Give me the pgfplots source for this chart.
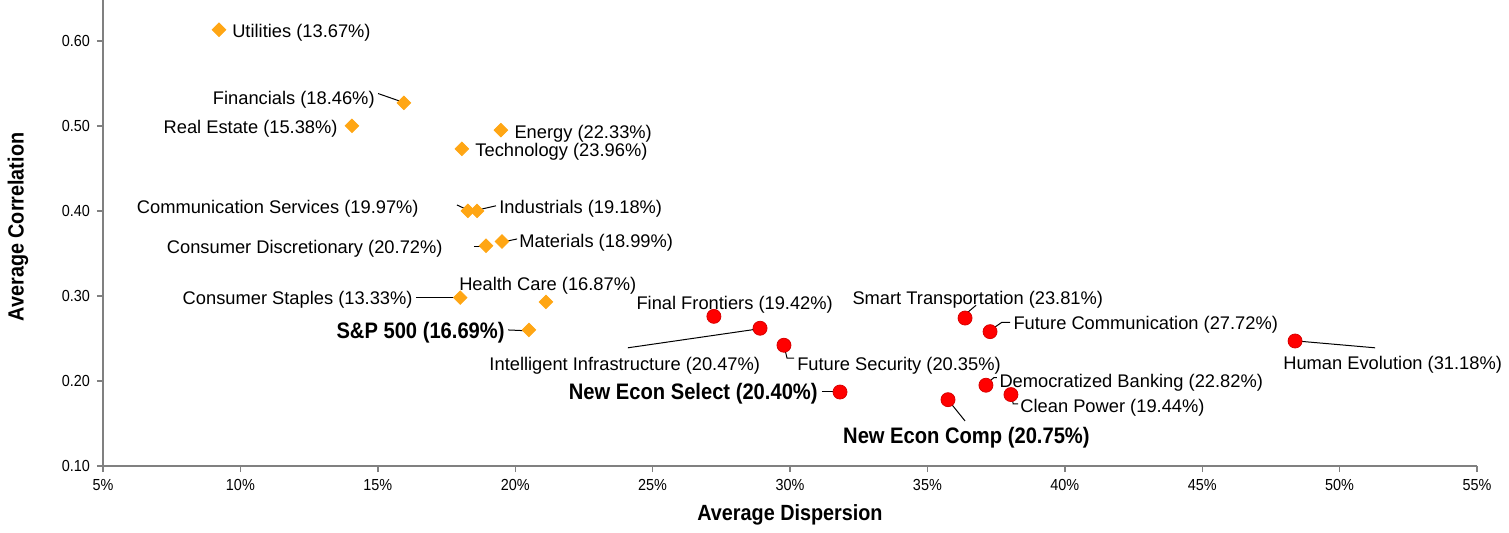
\documentclass[border=0pt]{standalone}
\usepackage{fontspec}
\setmainfont{Liberation Sans}
\newfontfamily\narrowfont[FakeStretch=0.9]{Liberation Sans}
\usepackage{pgfplots}
\pgfplotsset{compat=1.18}
\definecolor{sectorc}{RGB}{255,166,20}
\definecolor{themec}{RGB}{255,0,0}
\newcommand{\lab}{\fontsize{9.15}{11}\selectfont}
\newcommand{\blab}{\narrowfont\bfseries\fontsize{11.2}{13}\selectfont}
\begin{document}
\begin{tikzpicture}
\begin{axis}[
  at={(0pt,0pt)}, anchor=south west,
  scale only axis, width=687pt, height=233pt,
  xmin=5, xmax=55, ymin=0.1, ymax=0.648,
  axis x line*=bottom, axis y line*=left,
  axis line style={draw=black!50, line width=0.7pt, -},
  xtick={5,10,15,20,25,30,35,40,45,50,55},
  xticklabels={5\%,10\%,15\%,20\%,25\%,30\%,35\%,40\%,45\%,50\%,55\%},
  ytick={0.1,0.2,0.3,0.4,0.5,0.6},
  yticklabels={0.10,0.20,0.30,0.40,0.50,0.60},
  tick style={draw=black!50, line width=0.7pt},
  major tick length=3pt,
  tick align=outside,
  tick label style={font=\narrowfont\fontsize{8}{9}\selectfont},
  xlabel={Average Dispersion}, ylabel={Average Correlation},
  label style={font=\narrowfont\bfseries\fontsize{11}{13}\selectfont},
  xlabel style={at={(axis description cs:0.5,-0.105)}, anchor=center},
  ylabel style={at={(axis description cs:-0.0619,0.513)}, anchor=center},
  clip=false,
]
% leader lines
\draw[black, line width=0.5pt] (axis cs:15.01,0.538) -- (axis cs:15.81,0.529);
\draw[black, line width=0.5pt] (axis cs:17.88,0.407) -- (axis cs:18.21,0.402);
\draw[black, line width=0.5pt] (axis cs:18.76,0.402) -- (axis cs:19.30,0.406);
\draw[black, line width=0.5pt] (axis cs:18.50,0.358) -- (axis cs:18.86,0.358);
\draw[black, line width=0.5pt] (axis cs:19.63,0.364) -- (axis cs:20.07,0.367);
\draw[black, line width=0.5pt] (axis cs:16.39,0.298) -- (axis cs:17.92,0.298);
\draw[black, line width=0.5pt] (axis cs:19.74,0.260) -- (axis cs:20.43,0.259);
\draw[black, line width=0.5pt] (axis cs:24.10,0.239) -- (axis cs:28.80,0.261);
\draw[black, line width=0.5pt] (axis cs:29.78,0.242) -- (axis cs:29.89,0.227) -- (axis cs:30.15,0.227);
\draw[black, line width=0.5pt] (axis cs:31.16,0.188) -- (axis cs:31.67,0.188);
\draw[black, line width=0.5pt] (axis cs:36.44,0.280) -- (axis cs:36.77,0.289);
\draw[black, line width=0.5pt] (axis cs:37.35,0.261) -- (axis cs:37.71,0.269) -- (axis cs:38.01,0.269);
\draw[black, line width=0.5pt] (axis cs:37.20,0.198) -- (axis cs:37.42,0.204) -- (axis cs:37.53,0.204);
\draw[black, line width=0.5pt] (axis cs:38.08,0.182) -- (axis cs:38.12,0.173) -- (axis cs:38.30,0.173);
\draw[black, line width=0.5pt] (axis cs:35.82,0.175) -- (axis cs:36.37,0.153);
\draw[black, line width=0.5pt] (axis cs:48.45,0.247) -- (axis cs:51.29,0.239);
% sectors
\addplot[only marks, mark=square*, mark size=2.4pt,
  mark options={rotate=45, fill=sectorc, draw=sectorc}] coordinates {
  (9.22,0.613) (15.95,0.527) (14.06,0.500) (19.48,0.495) (18.06,0.473)
  (18.28,0.400) (18.61,0.400) (18.94,0.359) (19.52,0.364) (18.00,0.298)
  (21.12,0.293) (20.50,0.260)};
% themes
\addplot[only marks, mark=*, mark size=3.5pt,
  mark options={fill=themec, draw=themec!85!black}] coordinates {
  (27.23,0.276) (28.91,0.262) (29.78,0.242) (31.82,0.187) (36.37,0.274)
  (37.28,0.258) (37.13,0.195) (38.04,0.184) (35.75,0.178) (48.38,0.247)};
% labels
\begin{scope}[every node/.style={inner sep=0pt, font=\lab, yshift=-1.25pt}]
\node[anchor=west] at (axis cs:9.69,0.612) {Utilities (13.67\%)};
\node[anchor=east] at (axis cs:14.90,0.534) {Financials (18.46\%)};
\node[anchor=east] at (axis cs:13.55,0.500) {Real Estate (15.38\%)};
\node[anchor=west] at (axis cs:19.96,0.494) {Energy (22.33\%)};
\node[anchor=west] at (axis cs:18.54,0.472) {Technology (23.96\%)};
\node[anchor=east] at (axis cs:16.50,0.405) {Communication Services (19.97\%)};
\node[anchor=west] at (axis cs:19.41,0.405) {Industrials (19.18\%)};
\node[anchor=east] at (axis cs:17.37,0.358) {Consumer Discretionary (20.72\%)};
\node[anchor=west] at (axis cs:20.14,0.365) {Materials (18.99\%)};
\node[anchor=west] at (axis cs:17.95,0.315) {Health Care (16.87\%)};
\node[anchor=east] at (axis cs:16.28,0.298) {Consumer Staples (13.33\%)};
\node[anchor=east, font=\blab] at (axis cs:19.63,0.260) {S\&P 500 (16.69\%)};
\node[anchor=west] at (axis cs:24.40,0.293) {Final Frontiers (19.42\%)};
\node[anchor=west] at (axis cs:19.05,0.221) {Intelligent Infrastructure (20.47\%)};
\node[anchor=west] at (axis cs:30.25,0.221) {Future Security (20.35\%)};
\node[anchor=east, font=\blab] at (axis cs:31.02,0.188) {New Econ Select (20.40\%)};
\node[anchor=west] at (axis cs:32.26,0.299) {Smart Transportation (23.81\%)};
\node[anchor=west] at (axis cs:38.12,0.269) {Future Communication (27.72\%)};
\node[anchor=west] at (axis cs:37.61,0.201) {Democratized Banking (22.82\%)};
\node[anchor=west] at (axis cs:38.37,0.172) {Clean Power (19.44\%)};
\node[anchor=center, font=\blab] at (axis cs:36.42,0.136) {New Econ Comp (20.75\%)};
\node[anchor=center] at (axis cs:51.93,0.222) {Human Evolution (31.18\%)};
\end{scope}
\end{axis}
\pgfresetboundingbox
\path[use as bounding box] (-51.5pt,-33pt) rectangle (703pt,233pt);
\end{tikzpicture}
\end{document}
